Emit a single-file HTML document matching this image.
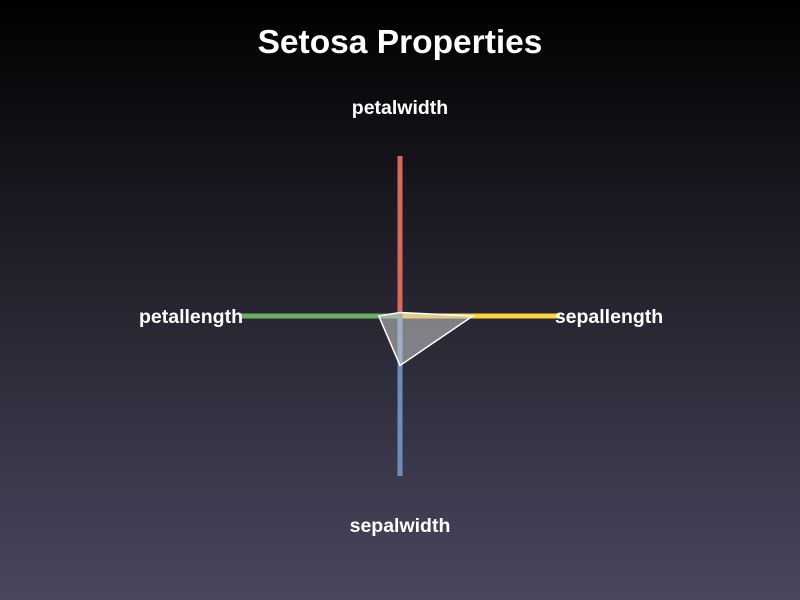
<!DOCTYPE html>
<html><head><meta charset="utf-8"><style>
html,body{margin:0;padding:0;width:800px;height:600px;overflow:hidden}
body{background:linear-gradient(to bottom,#000000 0%,#1a1a22 35%,#4a475e 100%);font-family:"Liberation Sans",sans-serif}
</style></head><body>
<svg id="chart" width="800" height="600">
<text x="400" y="53" text-anchor="middle" fill="#fff" font-size="33.5" font-weight="bold">Setosa Properties</text>
<g id="axes"></g><g id="poly"></g><g id="labels"></g>
</svg>
<script>
const categories = ["sepallength","sepalwidth","petallength","petalwidth"];
const values = [5.0, 3.4, 1.46, 0.24];
const maxValue = 11;
const colors = ["#ffd23f","#6c8ebf","#6aaf5f","#d9695a"];
const cx=400, cy=316, R=160;
const ns="http://www.w3.org/2000/svg";
function ang(i){return i*Math.PI/2;}
function pt(i,v){const r=v/maxValue*R;return [cx+r*Math.cos(ang(i)), cy+r*Math.sin(ang(i))];}
const axes=document.getElementById('axes'), labels=document.getElementById('labels'), poly=document.getElementById('poly');
categories.forEach((c,i)=>{
  const l=document.createElementNS(ns,'line');
  l.setAttribute('x1',cx);l.setAttribute('y1',cy);
  l.setAttribute('x2',cx+R*Math.cos(ang(i)));l.setAttribute('y2',cy+R*Math.sin(ang(i)));
  l.setAttribute('stroke',colors[i]);l.setAttribute('stroke-width',5);
  
  
  axes.appendChild(l);
  const t=document.createElementNS(ns,'text');
  let x=cx+(Math.abs(Math.cos(ang(i)))>0.5?R+49:0)*Math.sign(Math.round(Math.cos(ang(i))));
  let y=cy+(Math.abs(Math.sin(ang(i)))>0.5?R+49:0)*Math.sign(Math.round(Math.sin(ang(i))))+7;
  t.setAttribute('x',x);t.setAttribute('y',y);t.setAttribute('text-anchor','middle');
  t.setAttribute('fill','#fff');t.setAttribute('font-size','19.5');t.setAttribute('font-weight','bold');
  t.textContent=c;
  
  
  labels.appendChild(t);
});
const p=document.createElementNS(ns,'polygon');
p.setAttribute('points',values.map((v,i)=>pt(i,v).join(',')).join(' '));
p.setAttribute('fill','rgba(200,200,200,0.55)');p.setAttribute('stroke','#fff');p.setAttribute('stroke-width',1.5);


poly.appendChild(p);
</script>
</body></html>
